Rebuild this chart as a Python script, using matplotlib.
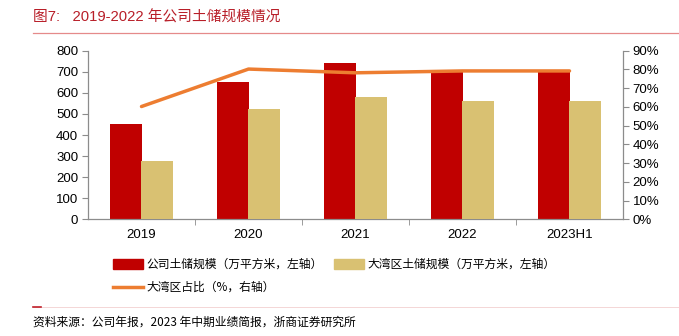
import matplotlib
matplotlib.use("Agg")
import matplotlib.pyplot as plt
from matplotlib.lines import Line2D
import numpy as np

plt.rcParams['font.family'] = ['Liberation Sans', 'Noto Sans CJK SC', 'DejaVu Sans']

categories = ["2019", "2020", "2021", "2022", "2023H1"]
company_land = [452, 652, 740, 705, 705]
gba_land = [275, 522, 578, 560, 560]
gba_ratio = [60.2, 80.2, 78.2, 79.2, 79.2]
left_ticks = [0, 100, 200, 300, 400, 500, 600, 700, 800]
right_ticks = [0, 10, 20, 30, 40, 50, 60, 70, 80, 90]

RED = "#C00000"
TAN = "#D9C172"
ORANGE = "#ED7D31"
GREY = "#8C8C8C"

fig = plt.figure(figsize=(6.79, 3.36), dpi=100)
ax = fig.add_axes([88/679, 1-219.3/336, (623-88)/679, (219.3-50.7)/336])
x = np.arange(len(categories))
w = 0.30
off = 0.145
ax.bar(x - off, company_land, w, color=RED, zorder=2)
ax.bar(x + off, gba_land, w, color=TAN, zorder=3)
ax.set_xlim(-0.5, len(categories) - 0.5)
ax.set_ylim(0, 800)
ax.set_yticks(left_ticks)
ax.set_xticks(x)
ax.set_xticklabels(categories)
ax.set_xticks(np.arange(0.5, len(categories) - 0.5, 1), minor=True)
ax.tick_params(axis='x', which='major', length=0, pad=7, labelsize=9.5)
ax.tick_params(axis='x', which='minor', length=4, color=GREY, direction='out')
ax.tick_params(axis='y', length=4, color=GREY, labelsize=9.5, pad=3)
for s in ['top', 'right']:
    ax.spines[s].set_visible(False)
for s in ['left', 'bottom']:
    ax.spines[s].set_color(GREY)
    ax.spines[s].set_linewidth(0.9)

ax2 = ax.twinx()
ax2.plot(x, gba_ratio, color=ORANGE, lw=2.5, zorder=5, solid_capstyle='round')
ax2.set_ylim(0, 90)
ax2.set_yticks(right_ticks)
ax2.set_yticklabels([f"{t}%" for t in right_ticks])
ax2.tick_params(axis='y', length=4, color=GREY, labelsize=9.5, pad=3)
for s in ['top', 'left', 'bottom']:
    ax2.spines[s].set_visible(False)
ax2.spines['right'].set_color(GREY)
ax2.spines['right'].set_linewidth(0.9)

# Title
fig.text(33/679, 1-17/336, "图7:   2019-2022 年公司土储规模情况", color="#B81E28",
         fontsize=10.6, va='center', ha='left', fontweight='normal',
         family=['Liberation Sans', 'Noto Sans CJK SC'])
fig.add_artist(Line2D([33/679, 1.0], [1-33/336, 1-33/336], color="#E58A8A", lw=0.9))

# Legend
cjk = ['Noto Sans CJK SC', 'DejaVu Sans']
def legend_patch(xp, yp, color, label):
    fig.patches.append(plt.Rectangle((xp/679, 1-(yp+5)/336), 30/679, 10/336,
                                     color=color, transform=fig.transFigure))
    fig.text((xp+33)/679, 1-yp/336, label, fontsize=8.5, va='center', ha='left', family=cjk)

legend_patch(113, 264, RED, "公司土储规模（万平方米，左轴）")
legend_patch(334, 264, TAN, "大湾区土储规模（万平方米，左轴）")
fig.add_artist(Line2D([113/679, 143/679], [1-287/336, 1-287/336], color=ORANGE, lw=2.5))
fig.text(146/679, 1-287/336, "大湾区占比（%，右轴）", fontsize=8.5, va='center', ha='left', family=cjk)

# Bottom rule and source
fig.add_artist(Line2D([33/679, 1.0], [1-306.5/336, 1-306.5/336], color="#F3D0D0", lw=0.6))
fig.add_artist(Line2D([33/679, 41/679], [1-306.5/336, 1-306.5/336], color="#C0202A", lw=1.2))
fig.text(33/679, 1-322/336, "资料来源：公司年报，2023 年中期业绩简报，浙商证券研究所",
         fontsize=8.5, va='center', ha='left', family=['Noto Sans CJK SC', 'DejaVu Sans'])

fig.savefig("out.png", dpi=100)
